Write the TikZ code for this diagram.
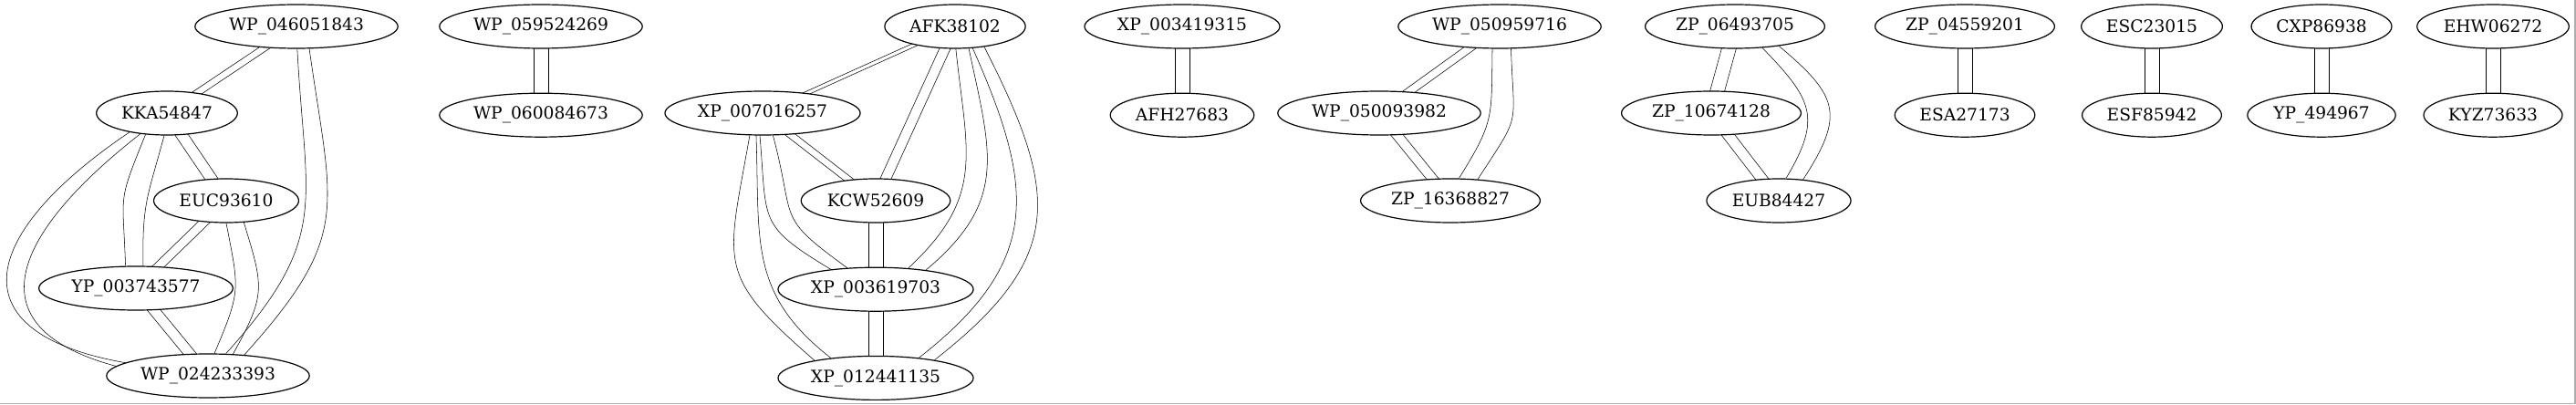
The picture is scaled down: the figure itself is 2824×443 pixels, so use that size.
\documentclass[tikz,border=0pt]{standalone}
\usepackage{fontspec}
\setmainfont{DejaVu Serif}
\usetikzlibrary{backgrounds, positioning, shapes}

% two parallel links between the centres of two nodes
\newcommand{\twin}[3][5.6pt]{%
    \draw ([xshift=-#1]#2.center) -- ([xshift=-#1]#3.center);
    \draw ([xshift=#1]#2.center) -- ([xshift=#1]#3.center);
}

\begin{document}
\begin{tikzpicture}[x=0.75pt, y=0.75pt, node distance=36pt]
    \tikzstyle{protein} = [draw, ellipse, fill=white, line width=0.9pt, inner xsep=3.5pt, inner ysep=1pt, minimum height=36pt, font=\fontsize{14}{16}\selectfont];
    \tikzstyle{link} = [line width=0.9pt];

    \useasboundingbox (0, 0) rectangle (2824, 443);
    \fill[gray!65] (2822, 0) rectangle (2824, 443);
    \fill[gray!65] (0, 0) rectangle (2824, 1.5);

    \node[protein] at (325, 414) (wp046) {WP\_046051843};
    \node[protein] at (183, 319) (kka) {KKA54847};
    \node[protein] at (248, 223) (euc) {EUC93610};
    \node[protein] at (149, 127) (yp003) {YP\_003743577};
    \node[protein] at (228, 31) (wp024) {WP\_024233393};

    \node[protein] at (593, 414) (wp059) {WP\_059524269};
    \node[protein, below = of wp059] (wp060) {WP\_060084673};

    \node[protein] at (1047, 414) (afk) {AFK38102};
    \node[protein] at (836, 319) (xp007) {XP\_007016257};
    \node[protein] at (960, 223) (kcw) {KCW52609};
    \node[protein, below = of kcw] (xp361) {XP\_003619703};
    \node[protein, below = of xp361] (xp124) {XP\_012441135};

    \node[protein] at (1296, 414) (xp341) {XP\_003419315};
    \node[protein, below = of xp341] (afh) {AFH27683};

    \node[protein] at (1644, 414) (wp509) {WP\_050959716};
    \node[protein] at (1512, 319) (wp500) {WP\_050093982};
    \node[protein] at (1590, 223) (zp163) {ZP\_16368827};

    \node[protein] at (1902, 414) (zp064) {ZP\_06493705};
    \node[protein] at (1876, 319) (zp106) {ZP\_10674128};
    \node[protein] at (1950, 223) (eub) {EUB84427};

    \node[protein] at (2154, 414) (zp045) {ZP\_04559201};
    \node[protein, below = of zp045] (esa) {ESA27173};
    \node[protein] at (2359, 414) (esc) {ESC23015};
    \node[protein, below = of esc] (esf) {ESF85942};
    \node[protein] at (2545, 414) (cxp) {CXP86938};
    \node[protein, below = of cxp] (yp494) {YP\_494967};
    \node[protein] at (2733, 414) (ehw) {EHW06272};
    \node[protein, below = of ehw] (kyz) {KYZ73633};

    \begin{scope}[on background layer, link]
        \twin[4.9pt]{wp046}{kka}
        \twin{kka}{euc}
        \twin[5.2pt]{euc}{yp003}
        \twin{yp003}{wp024}
        \draw (wp046.-88) .. controls +(-87:172) and +(48:172) .. (wp024.51);
        \draw (wp046.-60) .. controls +(-82:178) and +(48:178) .. (wp024.30);
        \draw (euc.-90) .. controls +(-79:75) and +(67:75) .. (wp024.74);
        \draw (euc.-51) .. controls +(-73:75) and +(61:75) .. (wp024.41);
        \draw (kka.-135) .. controls +(-112:83) and +(92:83) .. (yp003.115);
        \draw (kka.-97) .. controls +(-105:70) and +(91:70) .. (yp003.72);
        \draw (kka.-153) .. controls +(-146:194) and +(170:194) .. (wp024.171);
        \draw (kka.-142) .. controls +(-142:170) and +(165:170) .. (wp024.174);

        \twin[6pt]{wp059}{wp060}

        \twin[3.75pt]{afk}{xp007}
        \twin[4.6pt]{afk}{kcw}
        \twin[4.6pt]{xp007}{kcw}
        \twin[6pt]{kcw}{xp361}
        \twin[6pt]{xp361}{xp124}
        \draw (xp007.-120) .. controls +(-100:145) and +(139:145) .. (xp124.164);
        \draw (xp007.-106) .. controls +(-88:115) and +(142:115) .. (xp124.156);
        \draw (xp007.-97) .. controls +(-85:95) and +(149:95) .. (xp361.156);
        \draw (xp007.-65) .. controls +(-75:99) and +(144:99) .. (xp361.143);
        \draw (afk.-88) .. controls +(-84:116) and +(43:116) .. (xp361.33);
        \draw (afk.-58) .. controls +(-78:118) and +(40:118) .. (xp361.21);
        \draw (afk.-51) .. controls +(-66:170) and +(38:170) .. (xp124.25);
        \draw (afk.-35) .. controls +(-63:182) and +(38:182) .. (xp124.17);

        \twin[6pt]{xp341}{afh}

        \twin{wp509}{wp500}
        \twin[5.2pt]{wp500}{zp163}
        \draw (wp509.-108) .. controls +(-91:75) and +(58:75) .. (zp163.69);
        \draw (wp509.-63) .. controls +(-88:89) and +(57:89) .. (zp163.38);

        \twin[6pt]{zp064}{zp106}
        \twin{zp106}{eub}
        \draw (zp064.-38) .. controls +(-46:78) and +(59:78) .. (eub.72);
        \draw (zp064.-24) .. controls +(-40:85) and +(57:85) .. (eub.41);

        \twin[6pt]{zp045}{esa}
        \twin[6pt]{esc}{esf}
        \twin[6pt]{cxp}{yp494}
        \twin[6pt]{ehw}{kyz}
    \end{scope}
\end{tikzpicture}
\end{document}
